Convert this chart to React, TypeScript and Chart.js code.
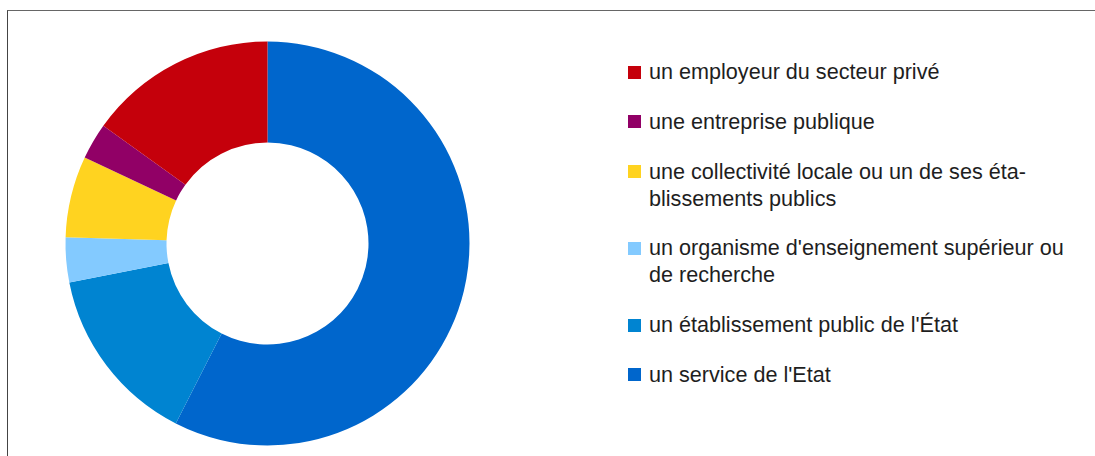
import React, { useEffect, useRef } from "react";
import { Chart, registerables } from "chart.js";

Chart.register(...registerables);

// Categories in legend order (first = last slice clockwise from 12 o'clock)
const categories: string[][] = [
  ["un employeur du secteur privé"],
  ["une entreprise publique"],
  ["une collectivité locale ou un de ses éta-", "blissements publics"],
  ["un organisme d'enseignement supérieur ou", "de recherche"],
  ["un établissement public de l'État"],
  ["un service de l'Etat"],
];

// Percentages
const shares: number[] = [15.1, 2.9, 6.5, 3.6, 14.4, 57.5];

const colors: string[] = ["#C5000B", "#910066", "#FFD320", "#83CAFF", "#0084D1", "#0066CC"];

export default function App() {
  const canvasRef = useRef<HTMLCanvasElement | null>(null);

  useEffect(() => {
    if (!canvasRef.current) return;
    // Chart.js draws clockwise from the top; the source draws the legend's
    // first item last, so the dataset is the reversed legend order.
    const order = categories.map((_, i) => i).reverse();
    const chart = new Chart(canvasRef.current, {
      type: "doughnut",
      data: {
        labels: order.map((i) => categories[i].join(" ")),
        datasets: [
          {
            data: order.map((i) => shares[i]),
            backgroundColor: order.map((i) => colors[i]),
            borderWidth: 0,
            hoverOffset: 0,
            offset: 0,
            radius: 202,
          } as any,
        ],
      },
      options: {
        animation: false,
        responsive: false,
        cutout: "50%",
        layout: { padding: 0 },
        plugins: {
          legend: { display: false },
          tooltip: { enabled: false },
        },
      },
    });
    return () => chart.destroy();
  }, []);

  return (
    <div
      style={{
        position: "fixed",
        left: 0,
        top: 0,
        width: 1095,
        height: 456,
        overflow: "hidden",
        background: "#fff",
      }}
    >
      <div
        style={{
          position: "absolute",
          left: 7,
          top: 10,
          width: 1100,
          height: 460,
          borderLeft: "1px solid #444",
          borderTop: "1px solid #666",
          boxSizing: "border-box",
        }}
      />
      <canvas
        ref={canvasRef}
        width={405}
        height={405}
        style={{ position: "absolute", left: 65, top: 41, width: 405, height: 405 }}
      />
      <div
        style={{
          position: "absolute",
          left: 628,
          top: 58,
          display: "flex",
          flexDirection: "column",
          gap: "22.8px",
          fontFamily: "'Liberation Sans', Arial, sans-serif",
          fontSize: "21.6px",
          lineHeight: "27px",
          color: "#1e1e1e",
        }}
      >
        {categories.map((lines, i) => (
          <div key={i} style={{ display: "flex", alignItems: "flex-start" }}>
            <span
              style={{
                display: "inline-block",
                width: 13,
                height: 13,
                marginTop: 7.5,
                marginRight: 8,
                background: colors[i],
                flex: "none",
              }}
            />
            <span style={{ whiteSpace: "nowrap" }}>
              {lines.map((l, j) => (
                <div key={j}>{l}</div>
              ))}
            </span>
          </div>
        ))}
      </div>
    </div>
  );
}
